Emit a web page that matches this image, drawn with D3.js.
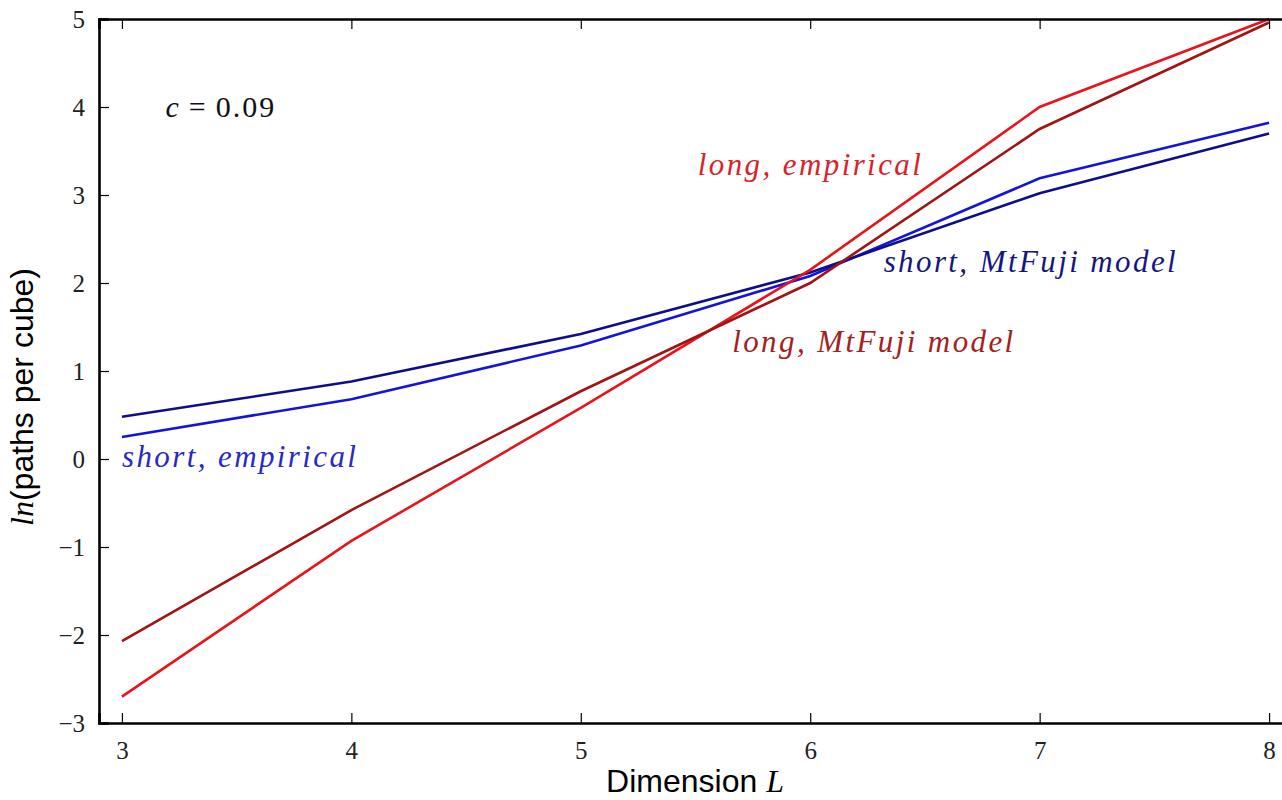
<!DOCTYPE html>
<html>
<head>
<meta charset="utf-8">
<script src="https://cdn.jsdelivr.net/npm/d3@7"></script>
<style>
  body { margin: 0; background: #fff; }
  .tick text { font-family: "Liberation Serif", serif; font-size: 25px; fill: #222; }
  .lbl { font-family: "Liberation Serif", serif; font-style: italic; font-size: 31px; letter-spacing: 2.4px; }
</style>
</head>
<body>
<svg id="graph-svg"></svg>
<script>
// dimensions L
const dims = [3, 4, 5, 6, 7, 8];

// ln(paths per cube) series
const shortModel = [0.48, 0.88, 1.42, 2.12, 3.02, 3.70];
const shortEmp   = [0.25, 0.68, 1.29, 2.08, 3.19, 3.82];
const longModel  = [-2.07, -0.58, 0.77, 2.00, 3.75, 4.96];
const longEmp    = [-2.70, -0.93, 0.58, 2.15, 4.00, 5.00];

const xTicks = [3, 4, 5, 6, 7, 8];
const yTicks = [-3, -2, -1, 0, 1, 2, 3, 4, 5];

const series = [
  {name: "short, empirical", values: shortEmp, color: "#1414d8", lx: 3.0, ly: -0.09, tc: "#2a2ac0"},
  {name: "short, MtFuji model", values: shortModel, color: "#0e0e88", lx: 6.32, ly: 2.12, tc: "#16167e"},
  {name: "long, empirical", values: longEmp, color: "#e6141c", lx: 5.51, ly: 3.23, tc: "#d9222a"},
  {name: "long, MtFuji model", values: longModel, color: "#a01414", lx: 5.66, ly: 1.22, tc: "#a52020"}
];

const margin = {top: 19, right: -10, bottom: 77, left: 99},
  width = 1282 - margin.left - margin.right,
  height = 800 - margin.top - margin.bottom;

const x = d3.scaleLinear().domain([2.9, 8.1]).range([0, width]);
const y = d3.scaleLinear().domain([-3, 5]).range([height, 0]);

const svg = d3.select("#graph-svg")
  .attr("width", 1282)
  .attr("height", 800)
  .append("g")
  .attr("transform", "translate(" + margin.left + "," + margin.top + ")");

// lines
const line = d3.line()
  .x(function (d) { return x(d[0]); })
  .y(function (d) { return y(d[1]); });

series.forEach(function (s) {
  svg.append("path")
    .datum(dims.map(function (dd, i) { return [dd, s.values[i]]; }))
    .attr("fill", "none")
    .attr("stroke", s.color)
    .attr("stroke-width", 2.6)
    .attr("d", line);
});

// axes, ticks pointing inward
const axB = svg.append("g").attr("transform", "translate(0," + height + ")")
  .call(d3.axisBottom(x).tickValues(xTicks).tickSize(-10).tickPadding(18).tickFormat(d3.format("d")));
const axT = svg.append("g")
  .call(d3.axisTop(x).tickValues(xTicks).tickSize(-10).tickFormat(""));
const axL = svg.append("g")
  .call(d3.axisLeft(y).tickValues(yTicks).tickSize(-10).tickPadding(14)
    .tickFormat(function (d) { return d < 0 ? "\u2212" + Math.abs(d) : d; }));
const axR = svg.append("g").attr("transform", "translate(" + width + ",0)")
  .call(d3.axisRight(y).tickValues(yTicks).tickSize(-10).tickFormat(""));

[axB, axT, axL, axR].forEach(function (a) {
  a.select(".domain").attr("stroke", "#000").attr("stroke-width", 2.6);
  a.selectAll(".tick line").attr("stroke", "#000").attr("stroke-width", 1.2);
});

// series labels
series.forEach(function (s) {
  svg.append("text")
    .attr("class", "lbl")
    .attr("x", x(s.lx))
    .attr("y", y(s.ly))
    .attr("fill", s.tc)
    .text(s.name);
});

// annotation
const ann = svg.append("text")
  .attr("x", x(3.19))
  .attr("y", y(3.89))
  .attr("fill", "#111")
  .style("font-family", "Liberation Serif, serif")
  .style("font-size", "30px");
ann.append("tspan").style("font-style", "italic").text("c");
ann.append("tspan").attr("dx", 10).text("=");
ann.append("tspan").attr("dx", 10).style("letter-spacing", "2px").text("0.09");

// x label
const xl = svg.append("text")
  .attr("x", 596)
  .attr("y", height + 69)
  .attr("text-anchor", "middle")
  .style("font-size", "32px");
xl.append("tspan").style("font-family", "Liberation Sans, sans-serif").text("Dimension ");
xl.append("tspan").style("font-family", "Liberation Serif, serif").style("font-style", "italic").text("L");

// y label
const yl = svg.append("text")
  .attr("transform", "translate(" + (-66) + "," + (378) + ") rotate(-90)")
  .attr("text-anchor", "middle")
  .style("font-size", "32px");
yl.append("tspan").style("font-family", "Liberation Serif, serif").style("font-style", "italic").text("ln");
yl.append("tspan").style("font-family", "Liberation Sans, sans-serif").text("(paths per cube)");
</script>
</body>
</html>
